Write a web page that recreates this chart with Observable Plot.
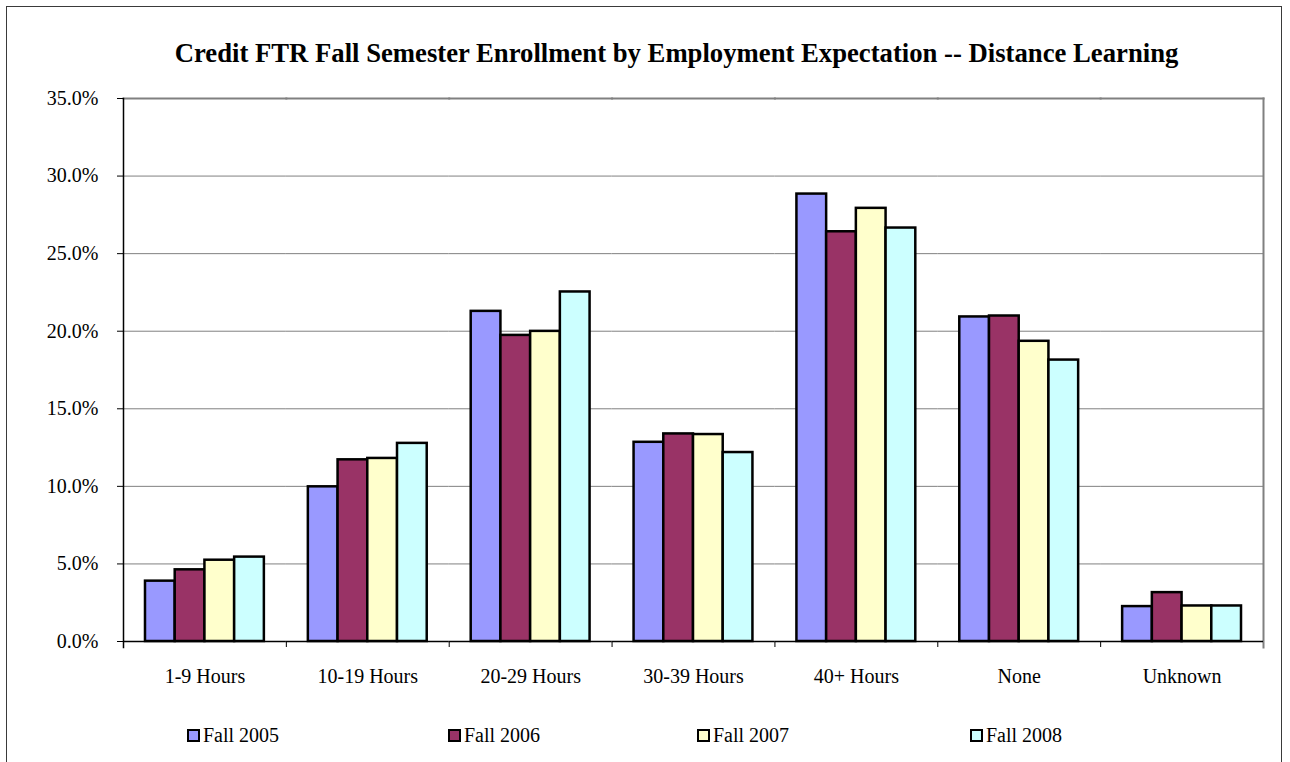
<!DOCTYPE html>
<html>
<head>
<meta charset="utf-8">
<script src="https://cdn.jsdelivr.net/npm/d3@7"></script>
<script src="https://cdn.jsdelivr.net/npm/@observablehq/plot@0.6"></script>
<style>
  html, body { margin: 0; padding: 0; background: #fff; overflow: hidden; }
  #wrap { position: relative; width: 1290px; height: 762px; font-family: "Liberation Serif", "Times New Roman", serif; color: #000; }
  #border { position: absolute; left: 6px; top: 6px; width: 1276px; height: 820px; border: 1.5px solid #3a3a3a; box-sizing: border-box; }
  #title { position: absolute; top: 40px; left: 0; width: 1353px; text-align: center; font-weight: bold; font-size: 26.7px; line-height: 1; white-space: nowrap; }
  #chart { position: absolute; left: 0; top: 0; }
  #legend { position: absolute; top: 724px; left: 187px; display: flex; font-size: 20px; }
  .item { display: flex; align-items: center; }
  .sw { width: 9px; height: 9px; border: 2px solid #000; margin-right: 3px; }
</style>
</head>
<body>
<div id="wrap">
  <div id="border"></div>
  <div id="chart"></div>
  <div id="title"></div>
  <div id="legend"></div>
</div>
<script>
const titleText = "Credit FTR Fall Semester Enrollment by Employment Expectation -- Distance Learning";
const categories = ["1-9 Hours", "10-19 Hours", "20-29 Hours", "30-39 Hours", "40+ Hours", "None", "Unknown"];
const series = ["Fall 2005", "Fall 2006", "Fall 2007", "Fall 2008"];
const fall2005 = [3.89, 9.97, 21.28, 12.84, 28.84, 20.92, 2.25];
const fall2006 = [4.62, 11.71, 19.73, 13.38, 26.41, 20.98, 3.15];
const fall2007 = [5.24, 11.80, 19.99, 13.34, 27.92, 19.35, 2.29];
const fall2008 = [5.44, 12.77, 22.53, 12.18, 26.65, 18.14, 2.29];
const colors = ["#9999FF", "#993366", "#FFFFCC", "#CCFFFF"];
const yTicks = [0, 5, 10, 15, 20, 25, 30, 35];

const valuesBySeries = [fall2005, fall2006, fall2007, fall2008];
const data = [];
categories.forEach((c, i) => {
  series.forEach((s, j) => data.push({category: c, series: s, value: valuesBySeries[j][i]}));
});

const W = 1290, H = 700, ML = 123, MR = 27, MT = 98, MB = 59;
const bw = (W - ML - MR) / categories.length;
const legendItemWidths = [261, 249, 273, 120];

document.getElementById("title").textContent = titleText;

const chart = Plot.plot({
  width: W, height: H,
  marginLeft: ML, marginRight: MR, marginTop: MT, marginBottom: MB,
  style: {fontFamily: '"Liberation Serif", "Times New Roman", serif', fontSize: "20px", color: "#000", background: "transparent"},
  fx: {domain: categories, padding: 0, round: false, label: null, axis: null},
  x: {domain: series, paddingInner: 0, paddingOuter: 0.74, round: false, axis: null},
  y: {domain: [0, 35], axis: null},
  color: {domain: series, range: colors},
  marks: [
    Plot.gridY(yTicks.slice(1, -1), {stroke: "#808080", strokeOpacity: 1, strokeWidth: 1}),
    Plot.frame({anchor: "top", stroke: "#808080", strokeWidth: 2}),
    Plot.frame({anchor: "right", facetAnchor: "right", stroke: "#808080", strokeWidth: 2, insetBottom: -6}),
    Plot.barY(data, {fx: "category", x: "series", y: "value", fill: "series", stroke: "#000", strokeWidth: 2.5}),
    Plot.ruleY([0], {stroke: "#000", strokeWidth: 1.5}),
    Plot.frame({anchor: "left", facetAnchor: "left", stroke: "#000", strokeWidth: 1.5, insetBottom: -6}),
    Plot.axisY(yTicks, {tickSize: 6, tickPadding: 19, tickFormat: d => d.toFixed(1) + "%", fontSize: 20, label: null}),
    Plot.axisFx({anchor: "bottom", tickSize: 0, tickPadding: 27, fontSize: 20, label: null}),
    Plot.axisFx({anchor: "bottom", tickSize: 6, dx: -bw / 2, tickFormat: () => "", label: null})
  ]
});
document.getElementById("chart").appendChild(chart);

const legend = document.getElementById("legend");
series.forEach((s, i) => {
  const item = document.createElement("div");
  item.className = "item";
  item.style.width = legendItemWidths[i] + "px";
  const sw = document.createElement("div");
  sw.className = "sw";
  sw.style.background = colors[i];
  const label = document.createElement("span");
  label.textContent = s;
  item.appendChild(sw);
  item.appendChild(label);
  legend.appendChild(item);
});
</script>
</body>
</html>
